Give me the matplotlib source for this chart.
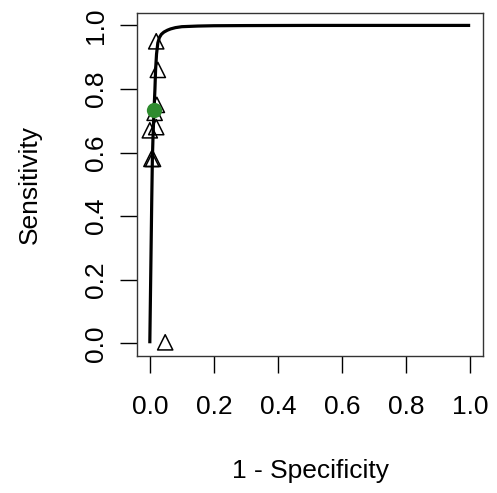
import matplotlib
matplotlib.use("Agg")
import matplotlib.pyplot as plt

# Study points (1 - specificity, sensitivity)
study_fpr = [0.020, 0.025, 0.022, 0.000, 0.020, 0.015, 0.005, 0.010, 0.048]
study_sens = [0.950, 0.860, 0.750, 0.670, 0.680, 0.725, 0.580, 0.580, 0.003]

# Summary point
summary_fpr = [0.013]
summary_sens = [0.735]

# SROC curve
curve_fpr = [0.000, 0.002, 0.004, 0.006, 0.008, 0.010, 0.013, 0.016, 0.018, 0.021,
             0.025, 0.030, 0.036, 0.044, 0.055, 0.065, 0.080, 0.100, 0.150, 0.200,
             0.300, 0.500, 0.700, 1.000]
curve_sens = [0.000, 0.150, 0.300, 0.450, 0.580, 0.650, 0.730, 0.800, 0.860, 0.910,
              0.945, 0.962, 0.972, 0.979, 0.985, 0.989, 0.993, 0.996, 0.998, 0.999,
              0.9995, 1.000, 1.000, 1.000]

ticks = [0.0, 0.2, 0.4, 0.6, 0.8, 1.0]
tick_labels = ["0.0", "0.2", "0.4", "0.6", "0.8", "1.0"]

plt.rcParams['font.family'] = ['Liberation Sans', 'DejaVu Sans']

fig = plt.figure(figsize=(4.97, 4.93), dpi=100)
ax = fig.add_axes([137 / 497, 1 - 356 / 493, (483 - 137) / 497, (356 - 12.7) / 493])

ax.plot(curve_fpr, curve_sens, color='black', lw=2.3, solid_capstyle='butt', zorder=2)
ax.scatter(study_fpr, study_sens, marker='^', s=120, facecolors='none',
           edgecolors='black', linewidths=1.1, zorder=3)
ax.plot(summary_fpr, summary_sens, 'o', color='#2E8B2E', markersize=11, zorder=4,
        markeredgewidth=0)

ax.set_xlim(-0.04, 1.04)
ax.set_ylim(-0.04, 1.04)
ax.set_xticks(ticks)
ax.set_xticklabels(tick_labels)
ax.set_yticks(ticks)
ax.set_yticklabels(tick_labels)

ax.tick_params(axis='both', direction='out', length=12.2, width=1.0, labelsize=19,
               color='black')
ax.tick_params(axis='x', pad=16)
ax.tick_params(axis='y', pad=9, labelrotation=90)
for lab in ax.get_yticklabels():
    lab.set_va('center')

for s in ax.spines.values():
    s.set_linewidth(1.0)
    s.set_color('#333333')

ax.set_xlabel("1 - Specificity", fontsize=19)
ax.set_ylabel("Sensitivity", fontsize=19)
ax.xaxis.set_label_coords(0.5, (356 - 478) / 343.3)
ax.yaxis.set_label_coords((37 - 137) / 346, 0.5)
ax.xaxis.label.set_va('baseline')
ax.yaxis.label.set_va('baseline')

fig.savefig("out.png", dpi=100)
